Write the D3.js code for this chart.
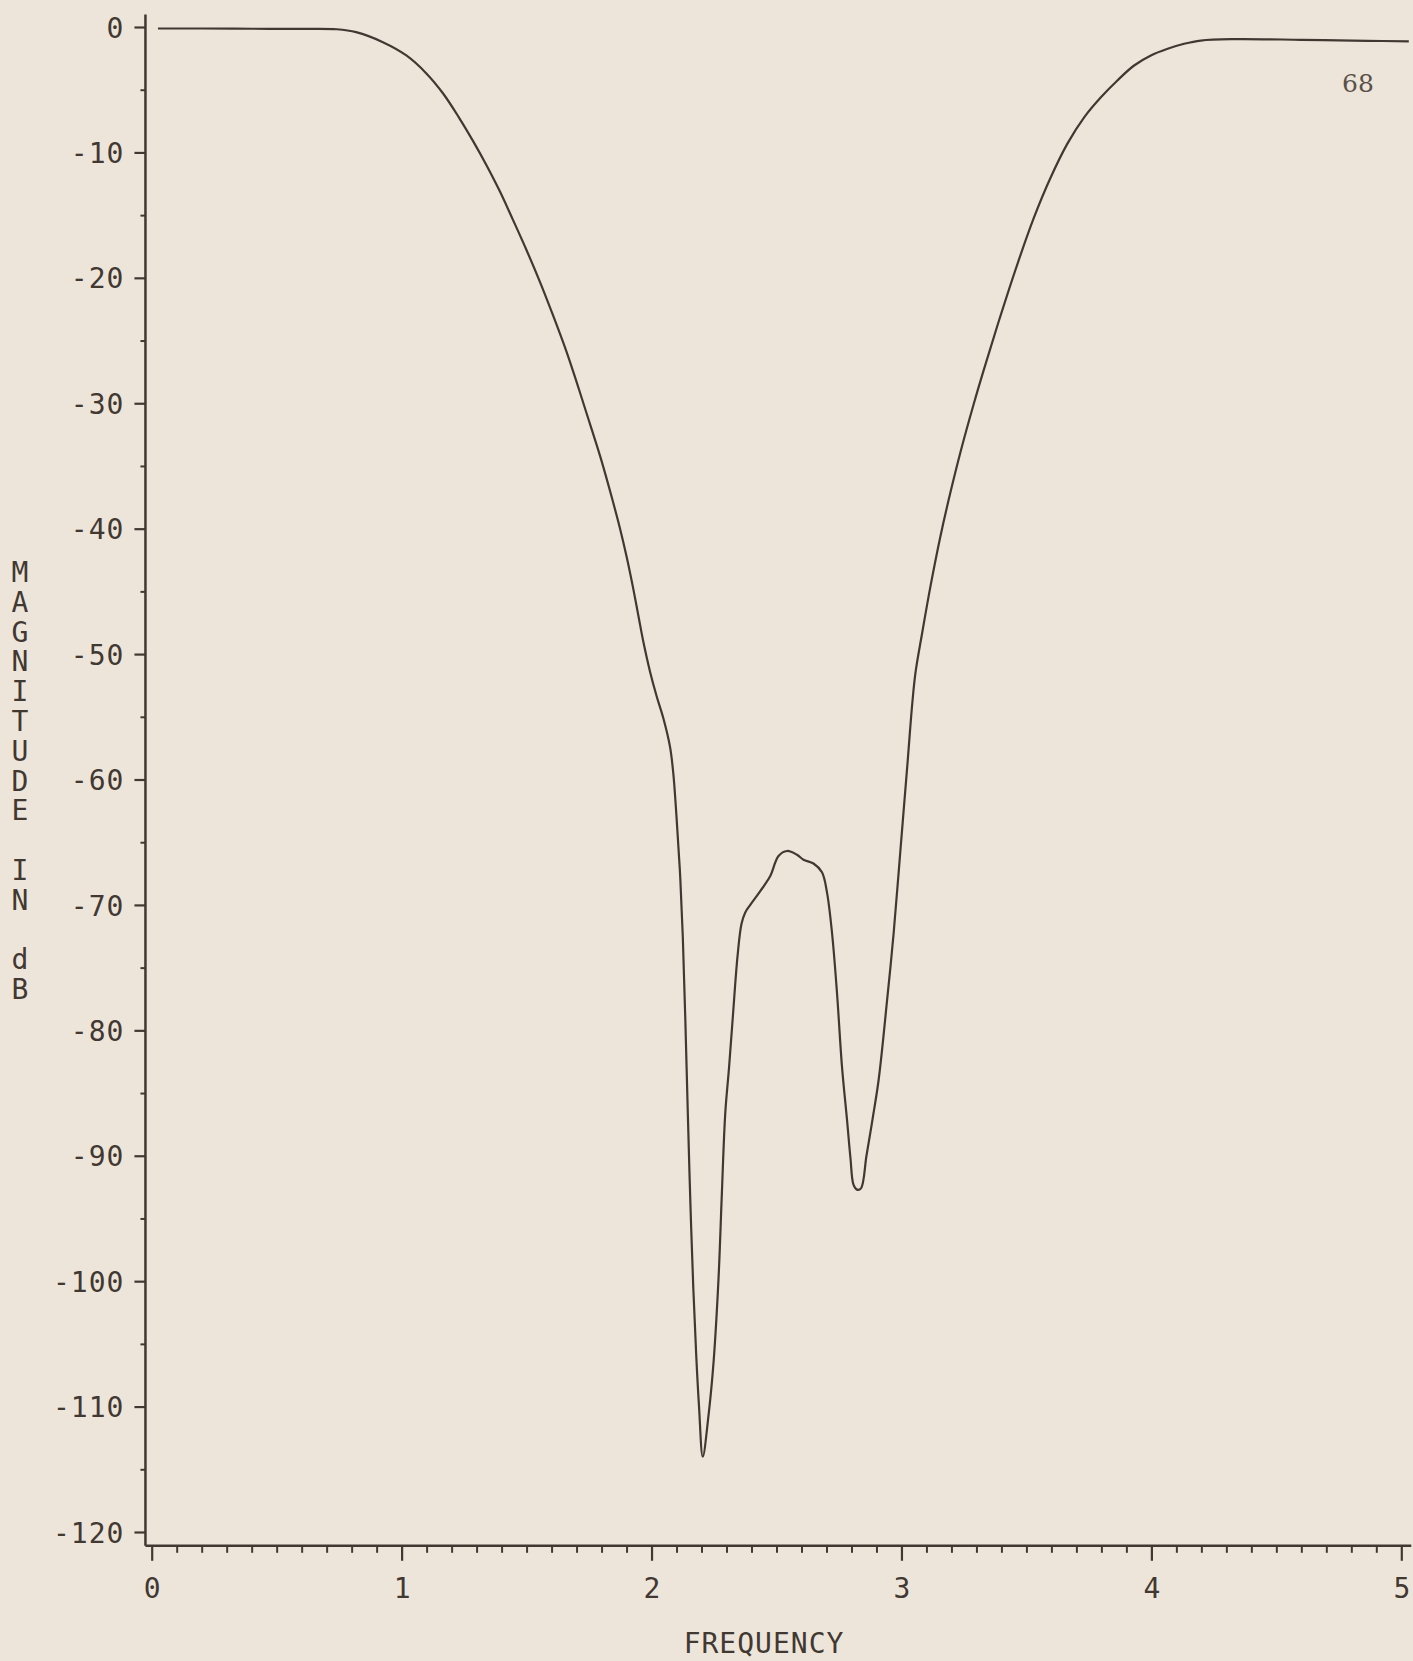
<!DOCTYPE html>
<html>
<head>
<meta charset="utf-8">
<script src="https://cdn.jsdelivr.net/npm/d3@7"></script>
<style>
  html, body { margin: 0; padding: 0; background: #eee5da; }
  svg { display: block; }
</style>
</head>
<body>
<script>
// ---- data ----
const freq = [0.025, 0.2, 0.4, 0.6, 0.74, 0.818, 0.925, 1.019, 1.099, 1.166, 1.232, 1.286, 1.339, 1.393, 1.446, 1.5, 1.553, 1.606, 1.66, 1.7, 1.74, 1.794, 1.834, 1.874, 1.901, 1.927, 1.947, 1.967, 1.994, 2.021, 2.047, 2.074, 2.087, 2.1, 2.114, 2.125, 2.135, 2.145, 2.155, 2.167, 2.179, 2.19, 2.205, 2.228, 2.248, 2.268, 2.281, 2.295, 2.31, 2.325, 2.344, 2.36, 2.375, 2.395, 2.435, 2.475, 2.508, 2.542, 2.582, 2.608, 2.648, 2.682, 2.702, 2.722, 2.742, 2.762, 2.782, 2.796, 2.808, 2.822, 2.838, 2.86, 2.885, 2.909, 2.943, 2.969, 2.996, 3.023, 3.043, 3.056, 3.083, 3.116, 3.156, 3.196, 3.236, 3.29, 3.33, 3.384, 3.464, 3.53, 3.597, 3.664, 3.731, 3.798, 3.864, 3.931, 3.998, 4.065, 4.131, 4.198, 4.332, 4.6, 4.866, 5.03];
const magnitudeDb = [-0.12, -0.12, -0.14, -0.15, -0.18, -0.41, -1.21, -2.27, -3.7, -5.3, -7.3, -9.1, -11.0, -13.1, -15.4, -17.8, -20.3, -23.0, -25.9, -28.3, -30.8, -34.2, -37.0, -40.0, -42.3, -44.8, -46.9, -49.0, -51.4, -53.4, -55.1, -57.4, -59.5, -63.0, -67.5, -72.5, -79.0, -86.5, -93.5, -100.5, -106.0, -110.0, -114.0, -110.7, -106.5, -99.8, -93.2, -86.6, -83.0, -79.0, -74.1, -71.5, -70.6, -70.0, -68.9, -67.7, -66.1, -65.7, -66.0, -66.4, -66.7, -67.4, -69.0, -72.2, -77.0, -82.9, -87.1, -90.2, -92.3, -92.7, -92.6, -90.0, -87.0, -83.9, -77.5, -72.2, -65.6, -59.0, -54.0, -51.5, -48.3, -44.6, -40.6, -37.1, -33.9, -30.0, -27.3, -23.8, -18.9, -15.2, -12.0, -9.3, -7.2, -5.6, -4.26, -3.07, -2.27, -1.74, -1.34, -1.08, -0.97, -1.02, -1.10, -1.15];

const xMajorTicks = [0, 1, 2, 3, 4, 5];
const xMinorTicks = d3.range(1, 50).filter(i => i % 10 !== 0).map(i => i / 10);
const yMajorTicks = [0, -10, -20, -30, -40, -50, -60, -70, -80, -90, -100, -110, -120];
const yMinorTicks = [-5, -15, -25, -35, -45, -55, -65, -75, -85, -95, -105, -115];
const yTitle = "MAGNITUDE IN dB";
const xTitle = "FREQUENCY";
const pageNumber = "68";

// ---- layout ----
const W = 1413, H = 1661;
const ink = "#413832";
const fontMono = "'DejaVu Sans Mono', 'Liberation Mono', monospace";

const x = d3.scaleLinear().domain([0, 5]).range([151.7, 1401.3]);
const y = d3.scaleLinear().domain([0, -120]).range([27, 1532]);

const svg = d3.select("body").append("svg").attr("width", W).attr("height", H);
svg.append("rect").attr("width", W).attr("height", H).attr("fill", "#eee5da");

const yAxisX = x(-0.025);
const xAxisY = y(-121.1);

// y axis
const gy = svg.append("g").attr("transform", `translate(${yAxisX},0)`);
gy.call(d3.axisLeft(y).tickValues(yMajorTicks).tickSize(11).tickPadding(10).tickFormat(d => String(d)));
gy.select(".domain").remove();
gy.selectAll(".tick line").attr("stroke", ink).attr("stroke-width", 2.2);
gy.selectAll(".tick text").attr("fill", ink).style("font-family", fontMono).style("font-size", "28px")
  .style("letter-spacing", "1px").attr("dy", "0.36em");
const gyMinor = svg.append("g").attr("transform", `translate(${yAxisX},0)`);
gyMinor.call(d3.axisLeft(y).tickValues(yMinorTicks).tickSize(5).tickFormat(""));
gyMinor.select(".domain").remove();
gyMinor.selectAll(".tick line").attr("stroke", ink).attr("stroke-width", 2);
svg.append("line").attr("x1", yAxisX).attr("x2", yAxisX).attr("y1", y(1.0)).attr("y2", xAxisY)
  .attr("stroke", ink).attr("stroke-width", 2.5);

// x axis
const gx = svg.append("g").attr("transform", `translate(0,${xAxisY})`);
gx.call(d3.axisBottom(x).tickValues(xMajorTicks).tickSize(15).tickPadding(17).tickFormat(d => String(d)));
gx.select(".domain").remove();
gx.selectAll(".tick line").attr("stroke", ink).attr("stroke-width", 2.2);
gx.selectAll(".tick text").attr("fill", ink).style("font-family", fontMono).style("font-size", "28px");
const gxMinor = svg.append("g").attr("transform", `translate(0,${xAxisY})`);
gxMinor.call(d3.axisBottom(x).tickValues(xMinorTicks).tickSize(7).tickFormat(""));
gxMinor.select(".domain").remove();
gxMinor.selectAll(".tick line").attr("stroke", ink).attr("stroke-width", 2);
svg.append("line").attr("x1", yAxisX).attr("x2", x(5.04)).attr("y1", xAxisY).attr("y2", xAxisY)
  .attr("stroke", ink).attr("stroke-width", 2.5);

// curve
const pts = freq.map((f, i) => [f, magnitudeDb[i]]);
const lineGen = d3.line().x(d => x(d[0])).y(d => y(d[1])).curve(d3.curveCatmullRom.alpha(0.5));
svg.append("path").datum(pts)
  .attr("d", lineGen)
  .attr("fill", "none").attr("stroke", ink).attr("stroke-width", 2.2).attr("stroke-linejoin", "round");

// titles
svg.append("text").attr("x", x(2.45)).attr("y", 1653).attr("text-anchor", "middle")
  .attr("fill", ink).style("font-family", fontMono).style("font-size", "28px").style("letter-spacing", "1px")
  .text(xTitle);

const yt = svg.append("text").attr("text-anchor", "middle")
  .attr("fill", ink).style("font-family", fontMono).style("font-size", "28px");
yt.selectAll("tspan").data(yTitle.split("")).join("tspan")
  .attr("x", 20).attr("y", (d, i) => 572 + i * 29.8).attr("dy", "0.36em")
  .text(d => d === " " ? "\u00a0" : d);

svg.append("text").attr("x", 1358).attr("y", 83).attr("dy", "0.36em").attr("text-anchor", "middle")
  .attr("fill", "#5a514a").style("font-family", "'DejaVu Serif', 'Liberation Serif', serif").style("font-size", "25px")
  .text(pageNumber);
</script>
</body>
</html>
